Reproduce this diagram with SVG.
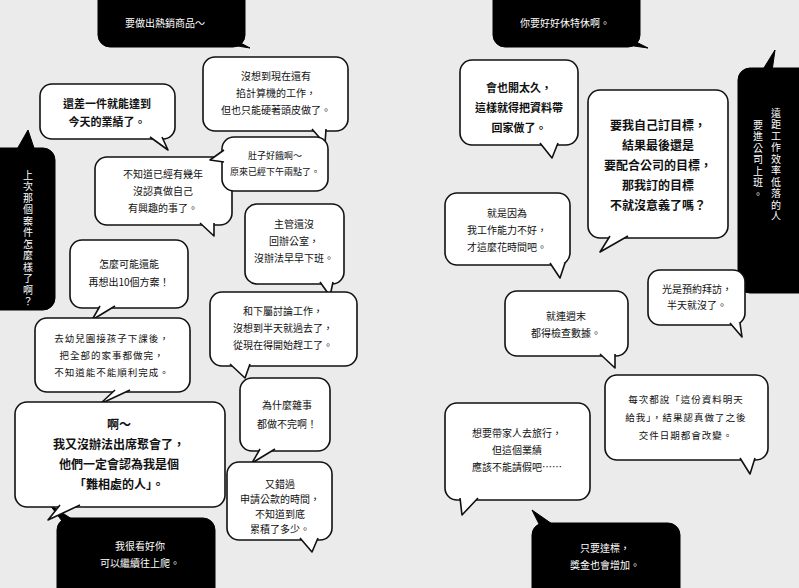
<svg xmlns="http://www.w3.org/2000/svg" width="799" height="588" viewBox="0 0 799 588">
<style>
.w rect{fill:#fff;stroke:#111;stroke-width:1.6}
.w path{fill:#fff;stroke:#111;stroke-width:1.6;stroke-linejoin:round}
.b rect,.b path{fill:#000;stroke:#000}
text{font-family:"Noto Sans CJK TC","Noto Sans CJK SC",sans-serif;text-anchor:middle;font-size:10px;fill:#111}
.b text{fill:#fff}
.v{writing-mode:vertical-rl;text-anchor:start;letter-spacing:1.5px}
.bd{font-weight:bold;font-size:11px}
.hw{font-size:9.5px;letter-spacing:1px}
</style>
<rect width="799" height="588" fill="#ebebeb"/>
<g id="connectors"></g>
<g id="n1" class="b"><rect x="98" y="-12" width="147" height="59" rx="12"/><path d="M225 44 L250 48 L235 40Z"/><text x="165" y="27">要做出熱銷商品～</text></g>
<g id="n2" class="b"><rect x="493" y="-12" width="147" height="59" rx="12"/><path d="M620 44 L648 48 L632 40Z"/><text x="565" y="27">你要好好休特休啊。</text></g>
<g id="n3" class="b"><rect x="-12" y="148" width="67" height="162" rx="12"/><path d="M16 151 L28 130 L35 151Z"/><text class="v" x="28" y="170">上次那個案件怎麼樣了啊？</text></g>
<g id="n4" class="b"><rect x="738" y="68" width="80" height="225" rx="12"/><path d="M762 71 L775 50 L772 71Z"/><text class="v" x="776" y="108">遠距工作效率低落的人</text><text class="v" x="758" y="120">要進公司上班。</text></g>
<g id="n5" class="b"><rect x="57" y="518" width="158" height="90" rx="12"/><path d="M62 521 L50 505 L75 521Z"/><text x="140" y="550">我很看好你</text><text x="140" y="567">可以繼續往上爬。</text></g>
<g id="n6" class="b"><rect x="532" y="523" width="148" height="85" rx="12"/><path d="M540 526 L532 510 L555 526Z"/><text x="605" y="552">只要達標，</text><text x="605" y="569">獎金也會增加。</text></g>

<g id="a" class="w"><rect x="40" y="84" width="135" height="55" rx="12"/><path d="M150 137 L168 150 L162 137"/><text class="bd" x="107" y="108">還差一件就能達到</text><text class="bd" x="107" y="126">今天的業績了。</text></g>
<g id="b" class="w"><rect x="203" y="57" width="145" height="74" rx="12"/><path d="M312 129 L325 144 L326 129"/><text x="276" y="80">沒想到現在還有</text><text x="276" y="97">掐計算機的工作，</text><text x="276" y="114">但也只能硬著頭皮做了。</text></g>
<g id="c" class="w"><rect x="95" y="157" width="137" height="68" rx="12"/><path d="M200 223 L214 236 L214 223"/><text x="163" y="178">不知道已經有幾年</text><text x="163" y="195">沒認真做自己</text><text x="163" y="212">有興趣的事了。</text></g>
<g id="d" class="w"><rect x="222" y="137" width="106" height="54" rx="12"/><path d="M224 150 L210 160 L224 162"/><text x="275" y="159" style="font-size:9px">肚子好餓啊～</text><text x="275" y="175" style="font-size:9px">原來已經下午兩點了。</text></g>
<g id="e" class="w"><rect x="70" y="240" width="118" height="68" rx="12"/><path d="M100 306 L92 320 L115 306"/><text x="129" y="268">怎麼可能還能</text><text x="129" y="286">再想出10個方案！</text></g>
<g id="f" class="w"><rect x="245" y="204" width="99" height="80" rx="12"/><path d="M320 282 L330 296 L333 282"/><text x="294" y="228">主管還沒</text><text x="294" y="245">回辦公室，</text><text x="294" y="262">沒辦法早早下班。</text></g>
<g id="g" class="w"><rect x="210" y="292" width="147" height="74" rx="12"/><path d="M230 364 L245 378 L250 364"/><text x="283" y="315">和下屬討論工作，</text><text x="283" y="332">沒想到半天就過去了，</text><text x="283" y="349">從現在得開始趕工了。</text></g>
<g id="h" class="w"><rect x="35" y="318" width="155" height="74" rx="12"/><path d="M115 390 L100 404 L130 390"/><text class="hw" x="112" y="342">去幼兒園接孩子下課後，</text><text class="hw" x="112" y="359">把全部的家事都做完，</text><text class="hw" x="112" y="376">不知道能不能順利完成。</text></g>
<g id="i" class="w"><rect x="240" y="378" width="90" height="73" rx="12"/><path d="M260 449 L252 463 L275 449"/><text x="287" y="409">為什麼雜事</text><text x="287" y="428">都做不完啊！</text></g>
<g id="j" class="w"><rect x="15" y="402" width="210" height="105" rx="12"/><path d="M60 505 L48 520 L80 505"/><text class="bd" x="119" y="429" style="font-size:12px">啊～</text><text class="bd" x="119" y="449" style="font-size:12px">我又沒辦法出席聚會了，</text><text class="bd" x="119" y="469" style="font-size:12px">他們一定會認為我是個</text><text class="bd" x="119" y="489" style="font-size:12px">「難相處的人」。</text></g>
<g id="k" class="w"><rect x="227" y="462" width="105" height="78" rx="12"/><path d="M300 538 L312 552 L318 538"/><text x="280" y="488">又錯過</text><text x="280" y="503">申請公款的時間，</text><text x="280" y="518">不知道到底</text><text x="280" y="533">累積了多少。</text></g>

<g id="l" class="w"><rect x="460" y="60" width="118" height="85" rx="12"/><path d="M540 143 L552 158 L558 143"/><text class="bd" x="519" y="92">會也開太久，</text><text class="bd" x="519" y="112">這樣就得把資料帶</text><text class="bd" x="519" y="132">回家做了。</text></g>
<g id="m" class="w"><rect x="588" y="90" width="140" height="148" rx="12"/><path d="M610 236 L600 252 L628 236"/><text class="bd" x="658" y="130" style="font-size:12px">要我自己訂目標，</text><text class="bd" x="658" y="150" style="font-size:12px">結果最後還是</text><text class="bd" x="658" y="170" style="font-size:12px">要配合公司的目標，</text><text class="bd" x="658" y="190" style="font-size:12px">那我訂的目標</text><text class="bd" x="658" y="210" style="font-size:12px">不就沒意義了嗎？</text></g>
<g id="n" class="w"><rect x="445" y="193" width="125" height="72" rx="12"/><path d="M550 263 L560 278 L565 263"/><text x="507" y="217">就是因為</text><text x="507" y="234">我工作能力不好，</text><text x="507" y="251">才這麼花時間吧。</text></g>
<g id="o" class="w"><rect x="648" y="270" width="97" height="55" rx="12"/><path d="M730 323 L742 337 L740 323"/><text x="697" y="293">光是預約拜訪，</text><text x="697" y="309">半天就沒了。</text></g>
<g id="p" class="w"><rect x="505" y="291" width="123" height="65" rx="12"/><path d="M600 354 L615 368 L615 354"/><text x="566" y="320">就連週末</text><text x="566" y="337">都得檢查數據。</text></g>
<g id="q" class="w"><rect x="605" y="375" width="163" height="85" rx="12"/><path d="M740 458 L750 474 L755 458"/><text class="hw" x="686" y="403">每次都說「這份資料明天</text><text class="hw" x="686" y="421">給我」，結果認真做了之後</text><text class="hw" x="686" y="439">交件日期都會改變。</text></g>
<g id="r" class="w"><rect x="445" y="403" width="145" height="97" rx="12"/><path d="M460 498 L462 515 L478 498"/><text x="517" y="437">想要帶家人去旅行，</text><text x="517" y="454">但這個業績</text><text x="517" y="471">應該不能請假吧……</text></g>
</svg>
